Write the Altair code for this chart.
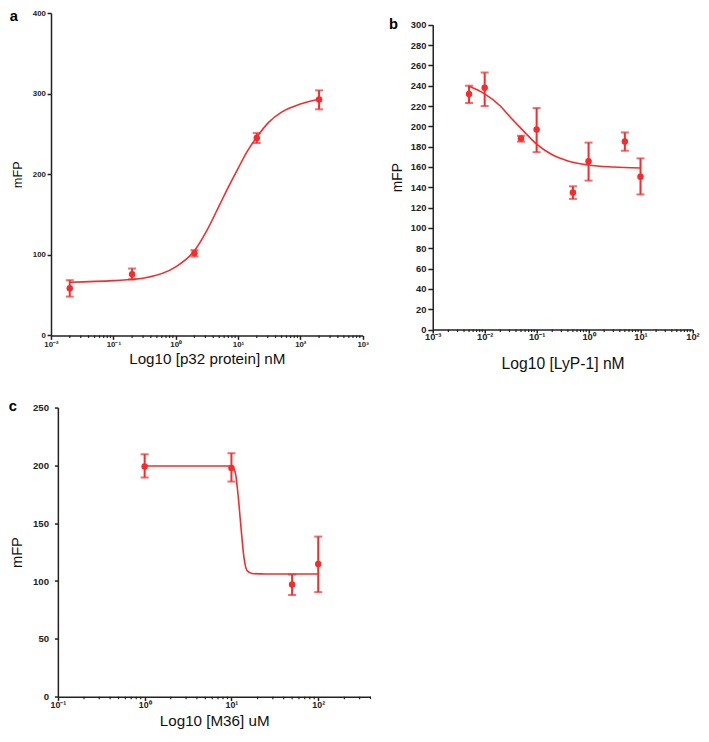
import altair as alt
import pandas as pd

RED = "#f72b2b"
FONT = "Liberation Sans"
S = 0.98  # overall scale so the page fits in the window

# ---------------- Panel a ----------------
a_x = [0.02, 0.2, 2, 20, 200]
a_y = [58.4, 75.8, 102, 245, 292.6]
a_lo = [48.2, 69.7, 98, 238.7, 280.5]
a_hi = [68.5, 83, 105.8, 251, 304]
a_curve_x = [0.02, 0.1, 0.3, 1, 2, 3.16, 5, 7, 10, 14, 20, 31.6, 50, 100, 200]
a_curve_y = [66, 68, 71, 85, 105, 130, 161, 184, 207, 228, 246, 265, 277, 287, 293]
a_xmajor = [0.01, 0.1, 1, 10, 100, 1000]
a_xlabels = ["10⁻²", "10⁻¹", "10⁰", "10¹", "10²", "10³"]
a_yticks = [0, 100, 200, 300, 400]

# ---------------- Panel b ----------------
b_x = [0.005, 0.01, 0.05, 0.1, 0.5, 1, 5, 10]
b_y = [231.8, 238, 188, 196.8, 135, 165.6, 185, 150.5]
b_lo = [223, 220, 185, 174.6, 128.6, 146.6, 176, 133]
b_hi = [240, 253, 190.7, 218, 141, 184, 194, 168.5]
b_curve_x = [0.005, 0.01, 0.02, 0.03, 0.05, 0.1, 0.2, 0.4, 1, 3, 10]
b_curve_y = [239.5, 232, 220, 210, 198, 182.5, 172, 166, 162, 160, 159]
b_xmajor = [0.001, 0.01, 0.1, 1, 10, 100]
b_xlabels = ["10⁻³", "10⁻²", "10⁻¹", "10⁰", "10¹", "10²"]
b_yticks = list(range(0, 301, 20))

# ---------------- Panel c ----------------
c_x = [1, 10, 50, 100]
c_y = [199, 197.7, 97, 114.7]
c_lo = [189.5, 186, 87.9, 90.4]
c_hi = [209.6, 210.5, 105.6, 138.4]
c_curve_x = [1, 5, 10, 10.5, 11.2, 11.9, 12.9, 13.9, 15.1, 17.2, 25, 50, 100]
c_curve_y = [199.4, 199.4, 199.4, 198, 192, 175, 146, 121, 109, 106.5, 106, 106, 106]
c_xmajor = [0.1, 1, 10, 100]
c_xlabels = ["10⁻¹", "10⁰", "10¹", "10²"]
c_yticks = [0, 50, 100, 150, 200, 250]


def minors(majors, upper):
    out = []
    for m in majors:
        for k in range(2, 10):
            v = round(m * k, 6)
            if v <= upper:
                out.append(v)
    return out


def label_expr(vals, labels):
    expr = "''"
    for v, l in reversed(list(zip(vals, labels))):
        expr = f"datum.value == {v} ? '{l}' : ({expr})"
    return expr


def panel(letter, px, py, plo, phi, cx, cy, xdomain, xmajor, xlabels, yticks,
          ydomain, width, height, xrange, yrange, xtitle, st, y_offset=0):
    w, h = width * S, height * S
    xscale = alt.Scale(type="log", domain=xdomain, nice=False,
                       range=[xrange[0] * S, xrange[1] * S])
    yscale = alt.Scale(domain=ydomain, nice=False, zero=False,
                       range=[yrange[0] * S, yrange[1] * S])
    xaxis = alt.Axis(values=xmajor, labelExpr=label_expr(xmajor, xlabels),
                     title=xtitle, tickSize=st["xtick"] * S,
                     labelPadding=st["xlp"] * S, labelFontSize=st["xlf"] * S,
                     titleFontSize=st["xtf"] * S, labelOverlap=False,
                     labelFlush=False, titlePadding=st["xtp"] * S)
    yaxis = alt.Axis(values=yticks, title="mFP", tickSize=st["ytick"] * S,
                     labelPadding=st["ylp"] * S, labelFontSize=st["ylf"] * S,
                     titleFontSize=st["ytf"] * S, titlePadding=st["ytp"] * S,
                     labelOverlap=False, offset=y_offset * S)
    pts = pd.DataFrame({"x": px, "y": py, "lo": plo, "hi": phi})
    cur = pd.DataFrame({"x": cx, "y": cy})
    mins = pd.DataFrame({"x": minors(xmajor, xdomain[1])})

    X = alt.X("x:Q", scale=xscale, axis=xaxis)
    line = alt.Chart(cur).mark_line(color=RED, strokeWidth=1.6,
                                    interpolate="monotone").encode(
        x=X, y=alt.Y("y:Q", scale=yscale, axis=yaxis))
    bars = alt.Chart(pts).mark_rule(color=RED, strokeWidth=2).encode(
        x=X, y=alt.Y("lo:Q", scale=yscale, axis=yaxis), y2="hi:Q")
    cap_lo = alt.Chart(pts).mark_tick(color=RED, orient="horizontal", size=8,
                                      thickness=2).encode(
        x=X, y=alt.Y("lo:Q", scale=yscale, axis=yaxis))
    cap_hi = alt.Chart(pts).mark_tick(color=RED, orient="horizontal", size=8,
                                      thickness=2).encode(
        x=X, y=alt.Y("hi:Q", scale=yscale, axis=yaxis))
    dots = alt.Chart(pts).mark_circle(color=RED, size=42, opacity=1).encode(
        x=X, y=alt.Y("y:Q", scale=yscale, axis=yaxis))
    mt = alt.Chart(mins).mark_rule(color="#222", strokeWidth=1.2).encode(
        x=X, y=alt.value(h), y2=alt.value(h + 2.5))
    lab = alt.Chart(pd.DataFrame({"t": [letter]})).mark_text(
        font=FONT, fontSize=15 * S, fontWeight="bold", align="center",
        baseline="middle", color="black").encode(
        text="t:N", x=alt.value(st["lx"] * S), y=alt.value(st["ly"] * S))
    return alt.layer(line, bars, cap_lo, cap_hi, dots, mt, lab).properties(
        width=w, height=h)


st_a = dict(xtick=4, xlp=1.5, xlf=8, xtf=15.5, xtp=3,
            ytick=4, ylp=1.7, ylf=8, ytf=13, ytp=8, lx=-38, ly=4)
st_b = dict(xtick=3.5, xlp=0, xlf=9.5, xtf=16, xtp=14,
            ytick=5, ylp=2, ylf=9.5, ytf=14, ytp=6, lx=-40, ly=12)
st_c = dict(xtick=4, xlp=0.3, xlf=9, xtf=15.5, xtp=4,
            ytick=3.5, ylp=6, ylf=9.8, ytf=15, ytp=7.8, lx=-39, ly=-1)

pa = panel("a", a_x, a_y, a_lo, a_hi, a_curve_x, a_curve_y, [0.01, 1000],
           a_xmajor, a_xlabels, a_yticks, [0, 400], 318, 329, [0, 318],
           [329, 0], "Log10 [p32 protein] nM", st_a)
pb = panel("b", b_x, b_y, b_lo, b_hi, b_curve_x, b_curve_y, [0.001, 100],
           b_xmajor, b_xlabels, b_yticks, [0, 300], 265, 323, [0, 265],
           [323, 12], "Log10 [LyP-1] nM", st_b)
pc = panel("c", c_x, c_y, c_lo, c_hi, c_curve_x, c_curve_y, [0.1, 400],
           c_xmajor, c_xlabels, c_yticks, [0, 250], 326, 295, [7, 326],
           [295, 0], "Log10 [M36] uM", st_c, y_offset=-7)

chart = alt.concat(pa, pb, pc, columns=2,
                   spacing={"row": 73 * S, "column": 63 * S},
                   bounds="flush").properties(padding=0).configure_axis(
    domainColor="#222", domainWidth=1.5, tickColor="#222", tickWidth=1.5,
    labelFont=FONT, labelFontWeight="bold", labelColor="#222",
    titleFont=FONT, titleFontWeight="normal",
    titleColor="#111", grid=False).configure_view(stroke=None)

chart.save("out.html", embed_options={"renderer": "svg", "actions": False})
